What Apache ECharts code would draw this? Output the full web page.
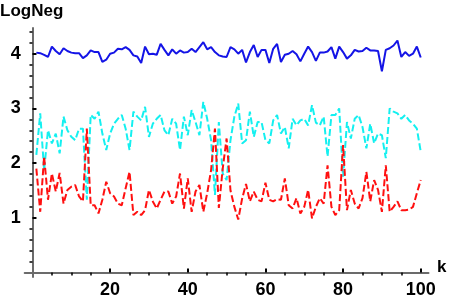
<!DOCTYPE html>
<html><head><meta charset="utf-8">
<script src="https://cdn.jsdelivr.net/npm/echarts@6/dist/echarts.min.js"></script>
<style>html,body{margin:0;padding:0;background:#fff}#c{width:460px;height:299px}</style>
</head><body><div id="c"></div>
<script>
// k = 1..100
const blueValues = [4.02,4.01,3.98,3.94,4.13,4.05,3.99,4.10,4.05,4.02,
4.01,4.01,3.92,3.97,4.06,4.03,4.03,3.85,3.89,4.00,
4.02,4.09,4.08,4.12,4.07,3.97,3.95,3.83,4.13,3.99,
4.00,3.98,4.18,4.07,3.97,4.08,4.00,4.06,4.02,4.03,
4.09,4.03,4.12,4.21,4.08,4.12,4.03,3.97,3.95,3.94,
4.12,4.08,4.00,4.07,3.84,4.03,4.16,3.94,4.07,4.07,
3.83,4.09,4.18,3.85,3.98,4.00,4.05,3.99,3.86,4.00,
4.13,4.03,3.87,4.02,4.02,4.04,4.12,3.91,4.13,4.03,
3.91,3.97,4.07,4.04,4.05,4.11,4.06,4.06,4.05,3.68,
4.07,4.10,4.15,4.24,3.94,4.03,3.96,4.00,4.13,3.93];
const cyanValues = [2.15,2.91,1.87,2.60,2.36,2.54,2.18,2.85,2.60,2.48,
2.42,2.63,2.63,1.33,2.88,2.81,2.94,2.54,2.24,2.54,
2.72,2.81,2.88,2.63,2.24,2.94,2.85,2.78,3.03,2.48,
2.72,2.81,2.88,2.60,2.51,2.81,2.72,2.24,2.85,2.51,
2.97,2.75,2.51,3.12,2.81,2.42,1.42,2.75,1.81,1.69,
2.42,2.85,3.09,2.36,2.42,2.94,2.48,2.75,2.75,2.42,
2.36,2.78,2.88,2.54,2.66,2.27,2.81,2.69,2.78,2.81,
2.69,3.06,2.74,2.69,2.85,2.12,2.88,2.88,3.00,1.75,
2.75,2.45,2.81,2.88,2.66,2.27,2.72,2.36,2.54,2.51,
2.09,3.00,2.94,2.91,2.81,2.88,2.78,2.72,2.63,2.21];
const redValues = [1.90,1.11,2.12,1.33,1.81,1.48,1.82,1.26,1.51,1.57,
1.60,1.39,1.30,2.63,1.23,1.23,1.08,1.33,1.66,1.45,
1.39,1.26,1.23,1.54,1.84,1.05,1.11,1.05,1.14,1.51,
1.30,1.17,1.33,1.48,1.48,1.26,1.39,1.81,1.17,1.72,
1.11,1.48,1.60,1.11,1.45,1.87,2.63,1.18,1.90,2.45,
1.50,1.20,0.97,1.35,1.62,1.30,1.48,1.33,1.30,1.64,
1.33,1.30,1.34,1.33,1.72,1.23,1.17,1.36,1.08,1.20,
1.51,0.99,1.20,1.36,1.26,1.96,1.20,1.05,1.14,2.33,
1.14,1.51,1.26,1.17,1.36,1.84,1.30,1.69,1.51,1.11,
1.96,1.11,1.20,1.30,1.14,1.14,1.15,1.20,1.45,1.69];
const xMajorTicks = [20,40,60,80,100];
const xMinorTicks = [5,10,15,25,30,35,45,50,55,65,70,75,85,90,95];
const yMajorTicks = [1,2,3,4];
const yMinorTicks = [0.2,0.4,0.6,0.8,1.2,1.4,1.6,1.8,2.2,2.4,2.6,2.8,3.2,3.4,3.6,3.8,4.2,4.4];
const xTitle = 'k', yTitle = 'LogNeg';

const toPts = arr => arr.map((v, i) => [i + 1, v]);
const font = '"Liberation Sans", Arial, sans-serif';
const axisLineStyle = {color: '#6b6b6b', width: 2};

const chart = echarts.init(document.getElementById('c'), null, {renderer: 'canvas'});
chart.setOption({
  animation: false,
  backgroundColor: '#fff',
  grid: {left: 24.7, right: 31.5, top: 28, bottom: 22.1, containLabel: false},
  xAxis: [{
    type: 'value', min: -2, max: 102,
    axisLine: {show: true, onZero: true, lineStyle: axisLineStyle},
    axisTick: {show: true, inside: true, length: 4, customValues: xMajorTicks, lineStyle: {color: '#000', width: 2}},
    axisLabel: {customValues: xMajorTicks, fontFamily: font, fontWeight: 'bold', fontSize: 18, color: '#000', margin: 4},
    splitLine: {show: false}
  }, {
    type: 'value', min: -2, max: 102,
    axisLine: {show: true, onZero: true, lineStyle: {color: 'rgba(0,0,0,0)'}},
    axisTick: {show: true, inside: true, length: 3, customValues: xMinorTicks, lineStyle: {color: '#000', width: 1.5}},
    axisLabel: {show: false},
    splitLine: {show: false}
  }],
  yAxis: [{
    type: 'value', min: -0.08, max: 4.47,
    axisLine: {show: true, onZero: true, lineStyle: axisLineStyle},
    axisTick: {show: true, inside: true, length: 4, customValues: yMajorTicks, lineStyle: {color: '#000', width: 2}},
    axisLabel: {customValues: yMajorTicks, fontFamily: font, fontWeight: 'bold', fontSize: 18, color: '#000', margin: 4},
    splitLine: {show: false}
  }, {
    type: 'value', min: -0.08, max: 4.47,
    axisLine: {show: true, onZero: true, lineStyle: {color: 'rgba(0,0,0,0)'}},
    axisTick: {show: true, inside: true, length: 3, customValues: yMinorTicks, lineStyle: {color: '#000', width: 1.5}},
    axisLabel: {show: false},
    splitLine: {show: false}
  }],
  graphic: [
    {type: 'text', left: 0, top: 3, style: {text: yTitle, font: 'bold 17px ' + font, fill: '#000'}},
    {type: 'text', left: 437, top: 259, style: {text: xTitle, font: 'bold 17px ' + font, fill: '#000'}}
  ],
  series: [
    {type: 'line', data: toPts(blueValues), showSymbol: false, lineStyle: {color: '#1414e6', width: 2}, z: 3},
    {type: 'line', data: toPts(cyanValues), showSymbol: false, lineStyle: {color: '#14f0f0', width: 2, type: [7, 3]}, z: 4},
    {type: 'line', data: toPts(redValues), showSymbol: false, lineStyle: {color: '#ff1010', width: 2, type: [7, 3]}, z: 5}
  ]
});
</script></body></html>
